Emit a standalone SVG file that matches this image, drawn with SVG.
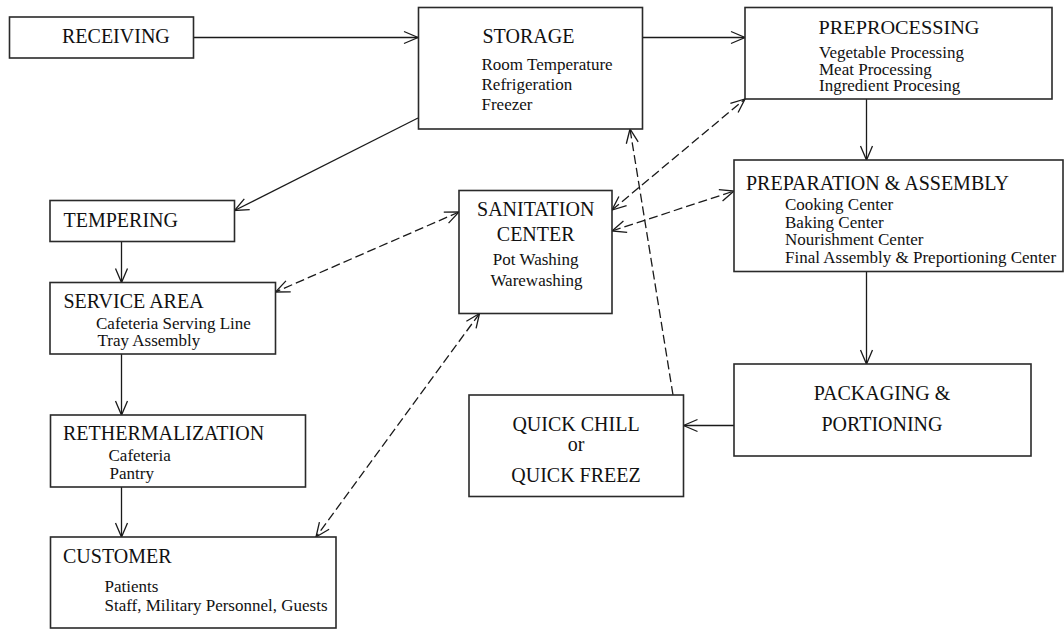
<svg xmlns="http://www.w3.org/2000/svg" width="1064" height="630" viewBox="0 0 1064 630">
<defs>
<marker id="arr" viewBox="-16 -8 18 16" refX="0" refY="0" markerWidth="18" markerHeight="16" markerUnits="userSpaceOnUse" orient="auto-start-reverse">
<path d="M -14 -6 L 0 0 L -14 6" fill="none" stroke="#1a1a1a" stroke-width="1.3"/>
</marker>
</defs>
<style>
.box{fill:#fff;stroke:#2a2a2a;stroke-width:1.6}
.t{font-family:"Liberation Serif","Times New Roman",serif;font-size:20px;fill:#111}
.s{font-family:"Liberation Serif","Times New Roman",serif;font-size:17px;fill:#111}
.c{text-anchor:middle}
.ln{fill:none;stroke:#1a1a1a;stroke-width:1.3}
.d{stroke-dasharray:9,4}
</style>
<rect width="1064" height="630" fill="#fff"/>
<g id="connectors">
<line class="ln" x1="193" y1="37.5" x2="418" y2="37.5" marker-end="url(#arr)"/>
<line class="ln" x1="642" y1="37.5" x2="745" y2="37.5" marker-end="url(#arr)"/>
<line class="ln" x1="418" y1="118" x2="234.5" y2="210.5" marker-end="url(#arr)"/>
<line class="ln" x1="866.5" y1="99" x2="866.5" y2="160" marker-end="url(#arr)"/>
<line class="ln" x1="866.5" y1="272" x2="866.5" y2="364" marker-end="url(#arr)"/>
<line class="ln" x1="734" y1="425.5" x2="683.5" y2="425.5" marker-end="url(#arr)"/>
<line class="ln" x1="121.5" y1="241.5" x2="121.5" y2="282.5" marker-end="url(#arr)"/>
<line class="ln" x1="121.5" y1="354" x2="121.5" y2="415" marker-end="url(#arr)"/>
<line class="ln" x1="121.5" y1="487" x2="121.5" y2="537" marker-end="url(#arr)"/>
<line class="ln d" x1="673" y1="395" x2="630" y2="129" marker-end="url(#arr)"/>
<line class="ln d" x1="612" y1="210" x2="745" y2="99" marker-start="url(#arr)" marker-end="url(#arr)"/>
<line class="ln d" x1="612" y1="231" x2="734" y2="191" marker-start="url(#arr)" marker-end="url(#arr)"/>
<line class="ln d" x1="459" y1="212" x2="275.5" y2="292" marker-start="url(#arr)" marker-end="url(#arr)"/>
<line class="ln d" x1="479.5" y1="313.5" x2="316" y2="537" marker-start="url(#arr)" marker-end="url(#arr)"/>
</g>
<g id="receiving">
<rect class="box" x="9.5" y="17" width="184" height="41"/>
<text class="t" x="62" y="43">RECEIVING</text>
</g>
<g id="storage">
<rect class="box" x="418.5" y="7.5" width="224" height="121.5"/>
<text class="t" x="482.5" y="43">STORAGE</text>
<text class="s" x="481.5" y="70">Room Temperature</text>
<text class="s" x="481.5" y="90">Refrigeration</text>
<text class="s" x="481.5" y="110">Freezer</text>
</g>
<g id="preprocessing">
<rect class="box" x="745" y="7.5" width="307" height="91.5"/>
<text class="t" x="818.5" y="33.5" style="font-size:19px" textLength="161" lengthAdjust="spacingAndGlyphs">PREPROCESSING</text>
<text class="s" x="819" y="57.5">Vegetable Processing</text>
<text class="s" x="819" y="74.5">Meat Processing</text>
<text class="s" x="819" y="91">Ingredient Procesing</text>
</g>
<g id="preparation">
<rect class="box" x="734" y="160" width="329" height="111.5"/>
<text class="t" x="746" y="189.5">PREPARATION &amp; ASSEMBLY</text>
<text class="s" x="785" y="210">Cooking Center</text>
<text class="s" x="785" y="227.5">Baking Center</text>
<text class="s" x="785" y="245">Nourishment Center</text>
<text class="s" x="785" y="263">Final Assembly &amp; Preportioning Center</text>
</g>
<g id="sanitation">
<rect class="box" x="459" y="190.5" width="153" height="123"/>
<text class="t c" x="535.7" y="216">SANITATION</text>
<text class="t c" x="535.7" y="240.5">CENTER</text>
<text class="s c" x="535.7" y="265">Pot Washing</text>
<text class="s c" x="536.5" y="286">Warewashing</text>
</g>
<g id="tempering">
<rect class="box" x="50" y="200.5" width="184.5" height="41"/>
<text class="t" x="63.5" y="226.5">TEMPERING</text>
</g>
<g id="service-area">
<rect class="box" x="50" y="282.5" width="225.5" height="71.5"/>
<text class="t" x="63.5" y="307.5">SERVICE AREA</text>
<text class="s" x="96" y="328.5">Cafeteria Serving Line</text>
<text class="s" x="97.5" y="346">Tray Assembly</text>
</g>
<g id="rethermalization">
<rect class="box" x="50.5" y="415" width="255" height="72"/>
<text class="t" x="63" y="440">RETHERMALIZATION</text>
<text class="s" x="108.5" y="460.5">Cafeteria</text>
<text class="s" x="109.5" y="478.5">Pantry</text>
</g>
<g id="customer">
<rect class="box" x="50.5" y="537" width="285.5" height="91"/>
<text class="t" x="63" y="562.5">CUSTOMER</text>
<text class="s" x="104.5" y="591.5">Patients</text>
<text class="s" x="104.5" y="610.5">Staff, Military Personnel, Guests</text>
</g>
<g id="quick-chill">
<rect class="box" x="469" y="395" width="214.5" height="101.5"/>
<text class="t c" x="576" y="431">QUICK CHILL</text>
<text class="t c" x="576" y="450.5">or</text>
<text class="t c" x="576" y="481.5">QUICK FREEZ</text>
</g>
<g id="packaging">
<rect class="box" x="734" y="364" width="297" height="92"/>
<text class="t c" x="882" y="400">PACKAGING &amp;</text>
<text class="t c" x="882" y="431">PORTIONING</text>
</g>
</svg>
